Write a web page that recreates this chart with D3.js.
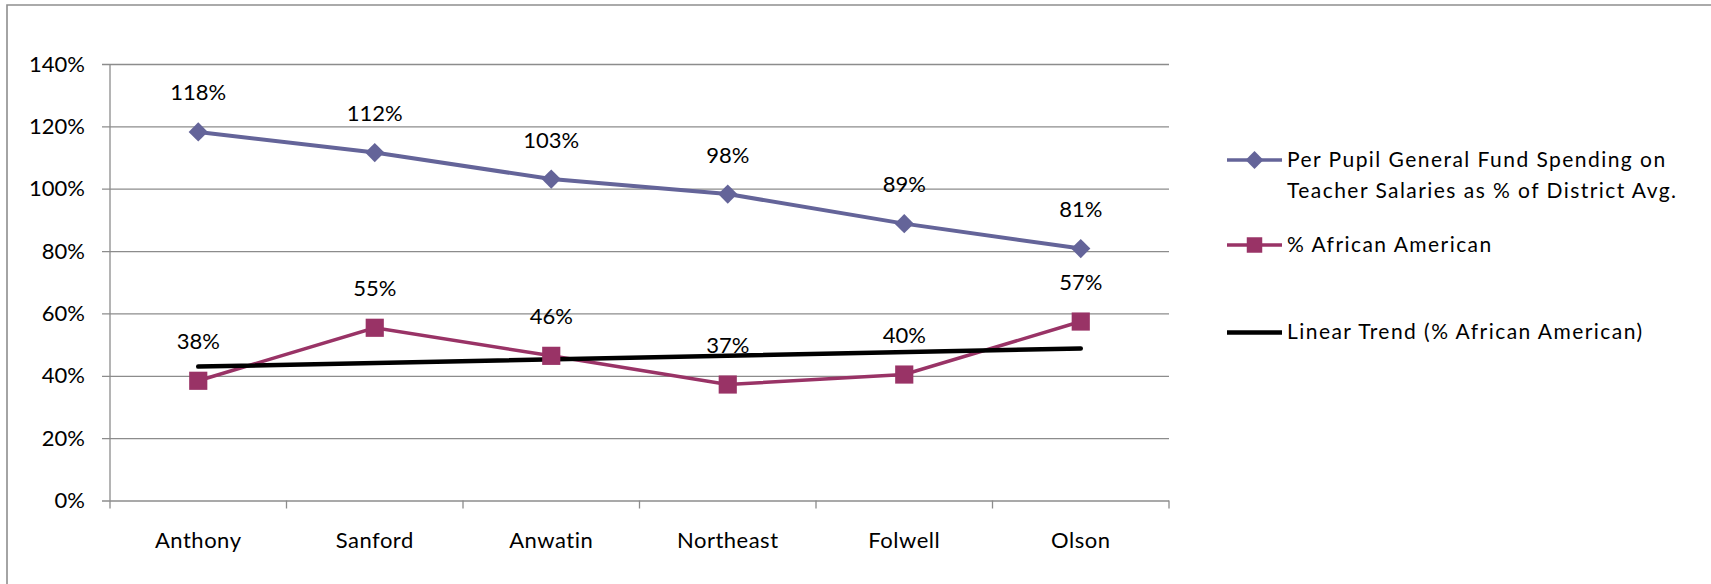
<!DOCTYPE html>
<html>
<head>
<meta charset="utf-8">
<script src="https://cdn.jsdelivr.net/npm/d3@7"></script>
<style>
  body { margin: 0; background: #fff; }
  #grafico { width: 1711px; height: 584px; }
  text { font-family: Lato, "Open Sans", sans-serif; fill: #000; }
  .grid line { stroke: #8c8c8c; stroke-width: 1.3; }
  .grid path { display: none; }
</style>
</head>
<body>
<div id="grafico"></div>
<script>
// schools along the x axis
var escolas = ["Anthony", "Sanford", "Anwatin", "Northeast", "Folwell", "Olson"];
// per pupil general fund spending on teacher salaries, % of district avg
var gasto = [1.182, 1.116, 1.031, 0.983, 0.888, 0.808];
// % african american
var afro = [0.384, 0.554, 0.464, 0.372, 0.404, 0.574];
var ticksY = [0, 0.2, 0.4, 0.6, 0.8, 1.0, 1.2, 1.4];
var legendas = [
	["Per Pupil General Fund Spending on", "Teacher Salaries as % of District Avg."],
	["% African American"],
	["Linear Trend (% African American)"]
];

var corGasto = "#646499", corAfro = "#993366";

function monta_grafico(){
	var W = 1711, H = 584;
	var margin = {top: 64, right: 542, bottom: 83.5, left: 110},
		width = W - margin.left - margin.right,
		height = H - margin.top - margin.bottom;

	var x = d3.scaleBand().domain(escolas).range([0, width]).padding(0);
	var y = d3.scaleLinear().domain([0, 1.4]).range([height, 0]);
	var cx = function(d, i) { return x(escolas[i]) + x.bandwidth() / 2; };

	var svg0 = d3.select("#grafico").append("svg")
		.attr("width", W)
		.attr("height", H);

	// chart frame (only top and left edges visible)
	svg0.append("path")
		.attr("d", "M7,584V5H" + W)
		.attr("fill", "none")
		.attr("stroke", "#8e8e8e")
		.attr("stroke-width", 1.6);

	var svg = svg0.append("g")
		.attr("transform", "translate(" + margin.left + "," + margin.top + ")");

	// gridlines + y axis
	var gy = svg.append("g")
		.attr("class", "grid")
		.call(d3.axisLeft(y)
			.tickValues(ticksY)
			.tickSizeInner(-width)
			.tickSizeOuter(0)
			.tickFormat(""));
	gy.selectAll(".tick line").attr("x1", -8);

	var ay = svg.append("g")
		.call(d3.axisLeft(y)
			.tickValues(ticksY)
			.tickSize(8)
			.tickPadding(17)
			.tickFormat(d3.format(".0%")));
	ay.select(".domain").remove();
	ay.selectAll(".tick line").remove();
	ay.selectAll("text")
		.style("font-size", "22px")
		.style("font-family", "Lato, sans-serif")
		.attr("fill", "#000");

	// y axis line
	svg.append("line")
		.attr("x1", 0).attr("x2", 0)
		.attr("y1", y(1.4)).attr("y2", height)
		.attr("stroke", "#8c8c8c").attr("stroke-width", 1.3);

	// x axis: ticks between categories
	var bordas = escolas.map(function(d) { return x(d); }).concat([width]);
	svg.append("g").selectAll("line")
		.data(bordas)
		.enter().append("line")
		.attr("x1", function(d) { return d; })
		.attr("x2", function(d) { return d; })
		.attr("y1", height)
		.attr("y2", height + 8)
		.attr("stroke", "#8c8c8c").attr("stroke-width", 1.3);

	svg.append("g").selectAll("text")
		.data(escolas)
		.enter().append("text")
		.attr("x", function(d, i) { return cx(d, i); })
		.attr("y", height + 47.5)
		.attr("text-anchor", "middle")
		.style("font-size", "22px")
		.style("letter-spacing", "0.5px")
		.text(function(d) { return d; });

	// trend line (least squares on % african american)
	var xs = afro.map(function(d, i) { return i + 1; });
	var mx = d3.mean(xs), my = d3.mean(afro);
	var sxy = d3.sum(xs, function(v, i) { return (v - mx) * (afro[i] - my); });
	var sxx = d3.sum(xs, function(v) { return (v - mx) * (v - mx); });
	var b = sxy / sxx, a = my - b * mx;
	var trend = xs.map(function(v) { return a + b * v; });

	var linha = d3.line()
		.x(function(d, i) { return cx(d, i); })
		.y(function(d) { return y(d); });

	svg.append("path")
		.datum(gasto)
		.attr("fill", "none")
		.attr("stroke", corGasto)
		.attr("stroke-width", 4)
		.attr("d", linha);

	svg.append("path")
		.datum(afro)
		.attr("fill", "none")
		.attr("stroke", corAfro)
		.attr("stroke-width", 3.5)
		.attr("d", linha);

	svg.append("path")
		.datum([trend[0], trend[trend.length - 1]])
		.attr("fill", "none")
		.attr("stroke", "#000")
		.attr("stroke-width", 4.5)
		.attr("stroke-linecap", "round")
		.attr("d", d3.line()
			.x(function(d, i) { return i == 0 ? cx(null, 0) : cx(null, escolas.length - 1); })
			.y(function(d) { return y(d); }));

	// markers
	var diamante = d3.symbol().type(d3.symbolSquare).size(185);
	var quadrado = d3.symbol().type(d3.symbolSquare).size(330);

	svg.append("g").selectAll("path")
		.data(gasto)
		.enter().append("path")
		.attr("d", diamante)
		.attr("transform", function(d, i) { return "translate(" + cx(d, i) + "," + y(d) + ") rotate(45)"; })
		.attr("fill", corGasto);

	svg.append("g").selectAll("path")
		.data(afro)
		.enter().append("path")
		.attr("d", quadrado)
		.attr("transform", function(d, i) { return "translate(" + cx(d, i) + "," + y(d) + ")"; })
		.attr("fill", corAfro);

	// data labels
	var fmt = d3.format(".0%");
	[gasto, afro].forEach(function(serie) {
		svg.append("g").selectAll("text")
			.data(serie)
			.enter().append("text")
			.attr("x", function(d, i) { return cx(d, i); })
			.attr("y", function(d) { return y(d) - 31.5; })
			.attr("text-anchor", "middle")
			.style("font-size", "22px")
			.text(function(d) { return fmt(d); });
	});

	// legend
	var leg = svg0.append("g").attr("transform", "translate(1227,0)");
	var legY = [160, 245, 332.5];
	var legCores = [corGasto, corAfro, "#000"];

	legendas.forEach(function(linhas, k) {
		var g = leg.append("g").attr("transform", "translate(0," + legY[k] + ")");
		g.append("line")
			.attr("x1", 0).attr("x2", 55)
			.attr("stroke", legCores[k])
			.attr("stroke-width", k == 2 ? 4.5 : 3.5);
		if (k == 0) {
			g.append("path")
				.attr("d", d3.symbol().type(d3.symbolSquare).size(160))
				.attr("transform", "translate(27.5,0) rotate(45)")
				.attr("fill", corGasto);
		}
		if (k == 1) {
			g.append("path")
				.attr("d", d3.symbol().type(d3.symbolSquare).size(240))
				.attr("transform", "translate(27.5,0)")
				.attr("fill", corAfro);
		}
		linhas.forEach(function(t, j) {
			g.append("text")
				.attr("x", 60)
				.attr("y", 6.5 + j * 31.7)
				.style("font-size", "21px")
				.style("letter-spacing", "1.45px")
				.text(t);
		});
	});
}

monta_grafico();
</script>
</body>
</html>
